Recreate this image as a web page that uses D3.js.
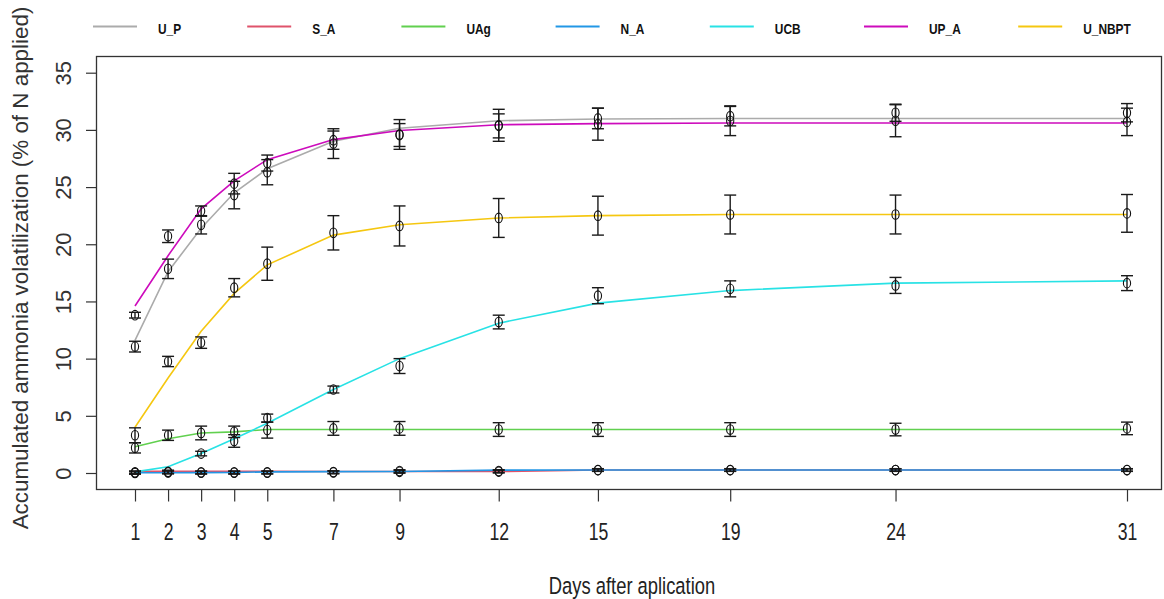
<!DOCTYPE html>
<html>
<head>
<meta charset="utf-8">
<script src="https://cdn.jsdelivr.net/npm/d3@7"></script>
<style>
  html, body { margin: 0; padding: 0; background: #fff; }
  svg { display: block; }
  text { font-family: "Liberation Sans", Arial, sans-serif; fill: #222; }
</style>
</head>
<body>
<svg id="chart" width="1164" height="599"></svg>
<script>
// Sampling days (x axis)
const days = [1, 2, 3, 4, 5, 7, 9, 12, 15, 19, 24, 31];
const xTicks = days;
const yTicks = [0, 5, 10, 15, 20, 25, 30, 35];

// Treatments, in legend / drawing order
const treatments = ["U_P", "S_A", "UAg", "N_A", "UCB", "UP_A", "U_NBPT"];
const colors = ["#ababab", "#DF536B", "#61D04F", "#2297E6", "#28E2E5", "#CD0BBC", "#F5C710"];

// Observed means (% of N applied)
const meanUP     = [11.05, 17.85, 21.7, 24.3, 26.3, 28.8, 29.6, 30.4, 31.0, 31.2, 31.5, 31.5];
const meanSA     = [0.02, 0.05, 0.02, 0.02, 0.03, 0.05, 0.1, 0.12, 0.25, 0.25, 0.26, 0.26];
const meanUAg    = [2.2, 3.3, 3.5, 3.6, 3.75, 3.9, 3.9, 3.8, 3.8, 3.8, 3.8, 3.9];
const meanNA     = [0.06, 0.08, 0.06, 0.06, 0.06, 0.08, 0.17, 0.17, 0.26, 0.26, 0.26, 0.26];
const meanUCB    = [0.0, 0.1, 1.7, 2.8, 4.8, 7.3, 9.35, 13.2, 15.5, 16.1, 16.4, 16.6];
const meanUPA    = [13.8, 20.7, 22.9, 25.3, 27.1, 29.1, 29.55, 30.35, 30.5, 30.8, 30.8, 30.7];
const meanUNBPT  = [3.3, 9.75, 11.4, 16.2, 18.3, 21.0, 21.6, 22.3, 22.5, 22.6, 22.6, 22.7];

// Standard errors
const seUP    = [0.47, 0.85, 0.8, 1.2, 1.1, 1.3, 1.3, 1.4, 0.9, 0.85, 0.75, 0.8];
const seSA    = [0.12, 0.12, 0.12, 0.12, 0.12, 0.12, 0.12, 0.12, 0.1, 0.1, 0.1, 0.1];
const seUAg   = [0.45, 0.45, 0.6, 0.5, 0.7, 0.6, 0.6, 0.6, 0.6, 0.6, 0.55, 0.55];
const seNA    = [0.12, 0.12, 0.12, 0.12, 0.12, 0.12, 0.12, 0.12, 0.12, 0.12, 0.12, 0.12];
const seUCB   = [0.1, 0.15, 0.2, 0.55, 0.35, 0.3, 0.65, 0.6, 0.7, 0.7, 0.7, 0.65];
const seUPA   = [0.25, 0.55, 0.45, 0.9, 0.7, 0.8, 1.0, 1.05, 1.4, 1.3, 1.4, 1.2];
const seUNBPT = [0.65, 0.45, 0.5, 0.8, 1.45, 1.5, 1.75, 1.7, 1.7, 1.7, 1.7, 1.65];

// Fitted model values at each sampling day
const fitUP    = [11.6, 17.6, 21.4, 24.5, 26.6, 29.0, 30.15, 30.8, 30.95, 31.0, 31.0, 31.0];
const fitSA    = [0.15, 0.15, 0.15, 0.15, 0.14, 0.13, 0.13, 0.13, 0.26, 0.26, 0.26, 0.26];
const fitUAg   = [2.3, 3.0, 3.5, 3.6, 3.8, 3.8, 3.8, 3.8, 3.8, 3.8, 3.8, 3.8];
const fitNA    = [0.02, 0.02, 0.03, 0.05, 0.1, 0.12, 0.13, 0.25, 0.26, 0.26, 0.26, 0.26];
const fitUCB   = [0.1, 0.55, 1.7, 3.0, 4.35, 7.3, 10.0, 13.1, 14.85, 15.95, 16.6, 16.8];
const fitUPA   = [14.6, 19.0, 23.1, 25.55, 27.4, 29.15, 29.95, 30.45, 30.55, 30.6, 30.6, 30.6];
const fitUNBPT = [4.0, 8.3, 12.4, 15.7, 18.2, 20.8, 21.7, 22.3, 22.5, 22.6, 22.6, 22.6];

const means = [meanUP, meanSA, meanUAg, meanNA, meanUCB, meanUPA, meanUNBPT];
const ses   = [seUP, seSA, seUAg, seNA, seUCB, seUPA, seUNBPT];
const fits  = [fitUP, fitSA, fitUAg, fitNA, fitUCB, fitUPA, fitUNBPT];

const svg = d3.select("#chart");

// Scales
const x = d3.scaleLinear().domain([1, 31]).range([135, 1127]);
const y = d3.scaleLinear().domain([0, 35]).range([473, 72.7]);

// Plot frame
const frame = { left: 96.5, right: 1161.5, top: 56.5, bottom: 489.5 };
svg.append("rect")
  .attr("x", frame.left).attr("y", frame.top)
  .attr("width", frame.right - frame.left).attr("height", frame.bottom - frame.top)
  .attr("fill", "none").attr("stroke", "#333").attr("stroke-width", 1.3);

// X axis
const xAxis = d3.axisBottom(x).tickValues(xTicks).tickSize(12).tickPadding(0).tickFormat(d3.format("d"));
const gx = svg.append("g").attr("transform", `translate(0,${frame.bottom})`).call(xAxis);
gx.select(".domain").remove();
gx.selectAll(".tick line").attr("stroke", "#333").attr("stroke-width", 1.2);
gx.selectAll(".tick text")
  .attr("y", 0).attr("dy", null)
  .attr("transform", "translate(0,50) scale(0.72,1)")
  .attr("text-anchor", "middle")
  .style("font-size", "24.5px").style("fill", "#222");

// Y axis
const yAxis = d3.axisLeft(y).tickValues(yTicks).tickSize(10.5).tickPadding(0);
const gy = svg.append("g").attr("transform", `translate(${frame.left},0)`).call(yAxis);
gy.select(".domain").remove();
gy.selectAll(".tick line").attr("stroke", "#333").attr("stroke-width", 1.2);
gy.selectAll(".tick text")
  .attr("x", 0).attr("dy", null)
  .attr("transform", "translate(-26,0) rotate(-90)")
  .attr("text-anchor", "middle")
  .style("font-size", "22px").style("fill", "#333");

// Axis titles
svg.append("text")
  .attr("transform", "translate(632,594) scale(0.75,1)")
  .attr("text-anchor", "middle")
  .style("font-size", "24.5px")
  .text("Days after aplication");

svg.append("text")
  .attr("transform", "translate(28,268) rotate(-90)")
  .attr("text-anchor", "middle")
  .style("font-size", "22.4px")
  .style("fill", "#333")
  .text("Accumulated ammonia volatilization (% of N applied)");

// Fitted curves
const line = d3.line().x(d => x(d[0])).y(d => y(d[1]));
treatments.forEach((t, i) => {
  svg.append("path")
    .datum(days.map((d, j) => [d, fits[i][j]]))
    .attr("d", line)
    .attr("fill", "none")
    .attr("stroke", colors[i])
    .attr("stroke-width", 1.6);
});

// Error bars and observed points
const capHalf = 6;
treatments.forEach((t, i) => {
  const g = svg.append("g");
  const pts = days.map((d, j) => ({ d, m: means[i][j], s: ses[i][j] }));
  g.selectAll("line.v").data(pts).join("line")
    .attr("x1", p => x(p.d)).attr("x2", p => x(p.d))
    .attr("y1", p => y(p.m - p.s)).attr("y2", p => y(p.m + p.s))
    .attr("stroke", "#1a1a1a").attr("stroke-width", 1.4);
  g.selectAll("line.top").data(pts).join("line")
    .attr("x1", p => x(p.d) - capHalf).attr("x2", p => x(p.d) + capHalf)
    .attr("y1", p => y(p.m + p.s)).attr("y2", p => y(p.m + p.s))
    .attr("stroke", "#1a1a1a").attr("stroke-width", 1.4);
  g.selectAll("line.bot").data(pts).join("line")
    .attr("x1", p => x(p.d) - capHalf).attr("x2", p => x(p.d) + capHalf)
    .attr("y1", p => y(p.m - p.s)).attr("y2", p => y(p.m - p.s))
    .attr("stroke", "#1a1a1a").attr("stroke-width", 1.4);
  g.selectAll("ellipse").data(pts).join("ellipse")
    .attr("cx", p => x(p.d)).attr("cy", p => y(p.m))
    .attr("rx", 3.6).attr("ry", 4.8)
    .attr("fill", "none").attr("stroke", "#111").attr("stroke-width", 1.1);
});

// Legend across the top
const legendStep = 154.2;
const legend = svg.append("g");
treatments.forEach((t, i) => {
  const x0 = 93 + i * legendStep;
  legend.append("line")
    .attr("x1", x0).attr("x2", x0 + 44)
    .attr("y1", 26.5).attr("y2", 26.5)
    .attr("stroke", colors[i]).attr("stroke-width", 2);
  legend.append("text")
    .attr("transform", `translate(${x0 + 65},34) scale(0.85,1)`)
    .style("font-size", "14px")
    .style("font-weight", "600")
    .style("fill", "#111")
    .text(t);
});
</script>
</body>
</html>
